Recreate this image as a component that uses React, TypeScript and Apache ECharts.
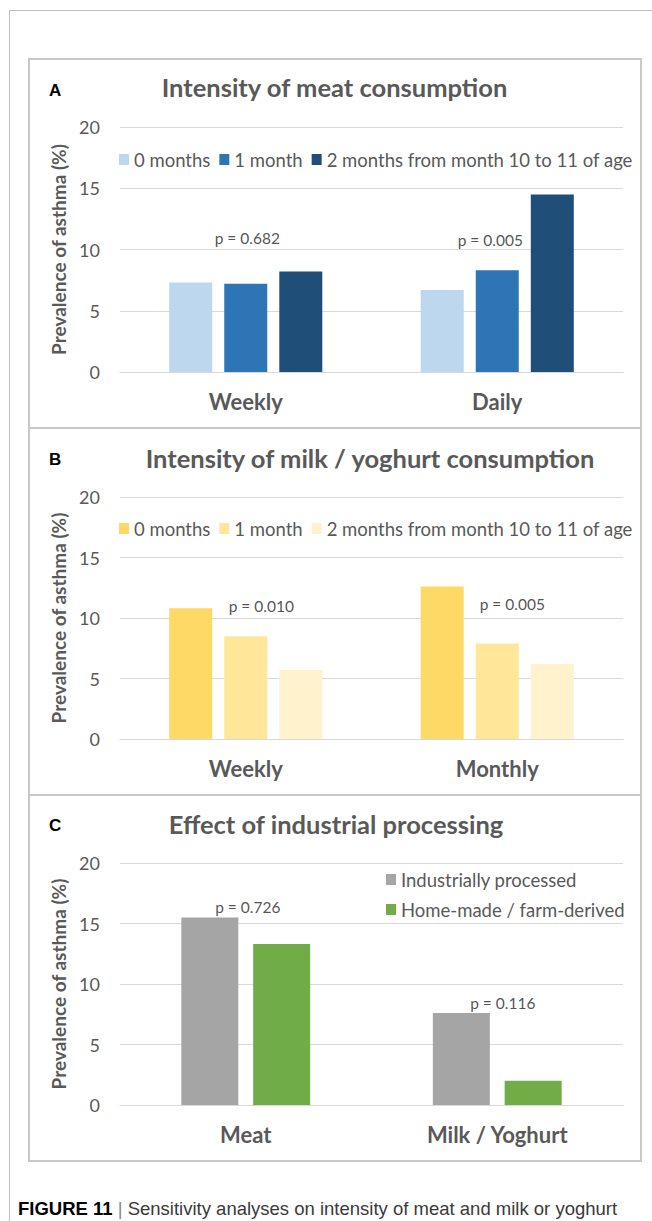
import React, { useEffect, useRef } from "react";
import * as echarts from "echarts";

// ---------- data ----------
const meatCategories = ["Weekly", "Daily"];
const milkCategories = ["Weekly", "Monthly"];
const processCategories = ["Meat", "Milk / Yoghurt"];

const durationNames = ["0 months", "1 month", "2 months from month 10 to 11 of age"];
const processNames = ["Industrially processed", "Home-made / farm-derived"];

const meat0 = [7.3, 6.7];
const meat1 = [7.2, 8.3];
const meat2 = [8.2, 14.5];

const milk0 = [10.8, 12.6];
const milk1 = [8.5, 7.9];
const milk2 = [5.7, 6.2];

const industrial = [15.5, 7.6];
const homemade = [13.3, 2.0];

const yTicks = [0, 5, 10, 15, 20];

// p-value annotations: text, category index, anchor value on y axis
const meatP = [
  { text: "p = 0.682", cat: 0, y: 10.9 },
  { text: "p = 0.005", cat: 1, y: 10.8 },
];
const milkP = [
  { text: "p = 0.010", cat: 0, y: 11.0 },
  { text: "p = 0.005", cat: 1, y: 11.15 },
];
const processP = [
  { text: "p = 0.726", cat: 0, y: 16.35 },
  { text: "p = 0.116", cat: 1, y: 8.45 },
];

const titles = [
  "Intensity of meat consumption",
  "Intensity of milk / yoghurt consumption",
  "Effect of industrial processing",
];
const panelLetters = ["A", "B", "C"];
const yAxisName = "Prevalence of asthma (%)";

// ---------- styles ----------
const FONT = "Lato, 'Open Sans', sans-serif";
const SANS = "'Liberation Sans', Arial, sans-serif";
const TXT = "#595959";
const blues = ["#BDD7EE", "#2E75B6", "#1F4E79"];
const golds = ["#FFD966", "#FFE699", "#FFF2CC"];
const procColors = ["#A5A5A5", "#70AD47"];

const grids = [
  { top: 127, height: 245 },
  { top: 497, height: 242 },
  { top: 863, height: 242 },
];

export default function App() {
  const ref = useRef<HTMLDivElement>(null);

  useEffect(() => {
    if (!ref.current) return;
    const chart = echarts.init(ref.current, undefined, { renderer: "svg" });

    const xAxes = [meatCategories, milkCategories, processCategories].map((cats, i) => ({
      type: "category",
      gridIndex: i,
      data: cats,
      axisLine: { show: true, lineStyle: { color: "#D9D9D9", width: 1 } },
      axisTick: { show: false },
      axisLabel: { fontFamily: FONT, fontSize: 22, fontWeight: "bold", color: TXT, margin: 18 },
    }));

    const yAxes = grids.map((_, i) => ({
      type: "value",
      gridIndex: i,
      min: yTicks[0],
      max: yTicks[yTicks.length - 1],
      interval: yTicks[1] - yTicks[0],
      name: yAxisName,
      nameLocation: "middle",
      nameGap: 44,
      nameRotate: 90,
      nameTextStyle: { fontFamily: FONT, fontSize: 19, fontWeight: "bold", color: TXT },
      axisLine: { show: false },
      axisTick: { show: false },
      axisLabel: { fontFamily: FONT, fontSize: 18, color: TXT, margin: 20 },
      splitLine: { lineStyle: { color: "#D9D9D9", width: 1 } },
    }));

    const bar = (name: string, data: number[], idx: number, color: string, width: number, gap: string) => ({
      type: "bar",
      name,
      xAxisIndex: idx,
      yAxisIndex: idx,
      data,
      barWidth: width,
      barGap: gap,
      itemStyle: { color },
      silent: true,
    });

    const pSeries = (arr: { text: string; cat: number; y: number }[], idx: number, offsets: number[]) => ({
      type: "scatter",
      name: "p" + idx,
      xAxisIndex: idx,
      yAxisIndex: idx,
      symbolSize: 0,
      silent: true,
      data: arr.map((p, k) => ({
        value: [p.cat, p.y],
        name: p.text,
        label: { offset: [offsets[k], 0] },
      })),
      label: {
        show: true,
        position: "inside",
        formatter: (prm: any) => prm.name,
        fontFamily: FONT,
        fontSize: 15.5,
        color: "#262626",
      },
    });

    const legendText = { fontFamily: FONT, fontSize: 18.5, color: TXT };

    const option: any = {
      animation: false,
      backgroundColor: "#ffffff",
      title: titles.map((t, i) => ({
        text: t,
        left: [329.5, 365, 331][i],
        top: [82, 453, 819][i],
        textAlign: "center",
        textVerticalAlign: "middle",
        textStyle: { fontFamily: FONT, fontSize: 25.5, fontWeight: "bold", color: TXT },
      })),
      grid: grids.map((g) => ({ left: 120, width: 503, top: g.top, height: g.height })),
      xAxis: xAxes,
      yAxis: yAxes,
      legend: [
        {
          data: durationNames,
          left: 114,
          top: 145,
          itemWidth: 10,
          itemHeight: 11,
          itemGap: 9,
          icon: "rect",
          textStyle: legendText,
          selectedMode: false,
        },
        {
          data: durationNames.map((n, k) => ({ name: n, itemStyle: { color: golds[k] } })),
          left: 114,
          top: 514,
          itemWidth: 10,
          itemHeight: 11,
          itemGap: 9,
          icon: "rect",
          textStyle: legendText,
          selectedMode: false,
        },
        {
          data: processNames,
          orient: "vertical",
          left: 381,
          top: 865,
          itemWidth: 10,
          itemHeight: 11,
          itemGap: 11,
          icon: "rect",
          textStyle: legendText,
          selectedMode: false,
        },
      ],
      series: [
        bar(durationNames[0], meat0, 0, blues[0], 43, "28%"),
        bar(durationNames[1], meat1, 0, blues[1], 43, "28%"),
        bar(durationNames[2], meat2, 0, blues[2], 43, "28%"),
        bar(durationNames[0], milk0, 1, golds[0], 43, "28%"),
        bar(durationNames[1], milk1, 1, golds[1], 43, "28%"),
        bar(durationNames[2], milk2, 1, golds[2], 43, "28%"),
        bar(processNames[0], industrial, 2, procColors[0], 57, "26%"),
        bar(processNames[1], homemade, 2, procColors[1], 57, "26%"),
        pSeries(meatP, 0, [1.5, -7]),
        pSeries(milkP, 1, [15.5, 15]),
        pSeries(processP, 2, [2, 5.5]),
      ],
      graphic: [
        { type: "line", shape: { x1: 9, y1: 10.5, x2: 652, y2: 10.5 }, style: { stroke: "#BFBFBF", lineWidth: 1 }, silent: true },
        { type: "line", shape: { x1: 9.5, y1: 10, x2: 9.5, y2: 1221 }, style: { stroke: "#BFBFBF", lineWidth: 1 }, silent: true },
        { type: "rect", shape: { x: 29, y: 59, width: 612, height: 369 }, style: { fill: "none", stroke: "#C8C8C8", lineWidth: 2 }, silent: true },
        { type: "rect", shape: { x: 29, y: 428, width: 612, height: 367 }, style: { fill: "none", stroke: "#C8C8C8", lineWidth: 2 }, silent: true },
        { type: "rect", shape: { x: 29, y: 795, width: 612, height: 366 }, style: { fill: "none", stroke: "#C8C8C8", lineWidth: 2 }, silent: true },
        ...panelLetters.map((l, i) => ({
          type: "text",
          x: 49,
          y: [90.5, 459, 825][i],
          style: {
            text: l,
            fontFamily: SANS,
            fontSize: 17,
            fontWeight: "bold",
            fill: "#000000",
            verticalAlign: "middle",
          },
          silent: true,
        })),
        {
          type: "text",
          x: 18,
          y: 1208,
          style: {
            text: "{b|FIGURE 11} {s||} Sensitivity analyses on intensity of meat and milk or yoghurt",
            fontFamily: SANS,
            fontSize: 18.5,
            fill: "#3a3a3a",
            verticalAlign: "middle",
            rich: {
              b: { fontFamily: SANS, fontSize: 18.5, fontWeight: "bold", fill: "#000000" },
              s: { fontFamily: SANS, fontSize: 18.5, fill: "#888888" },
            },
          },
          silent: true,
        },
      ],
    };

    chart.setOption(option);
    return () => chart.dispose();
  }, []);

  return (
    <div
      ref={ref}
      style={{ position: "absolute", left: 0, top: 0, width: 652, height: 1221, background: "#fff" }}
    />
  );
}
